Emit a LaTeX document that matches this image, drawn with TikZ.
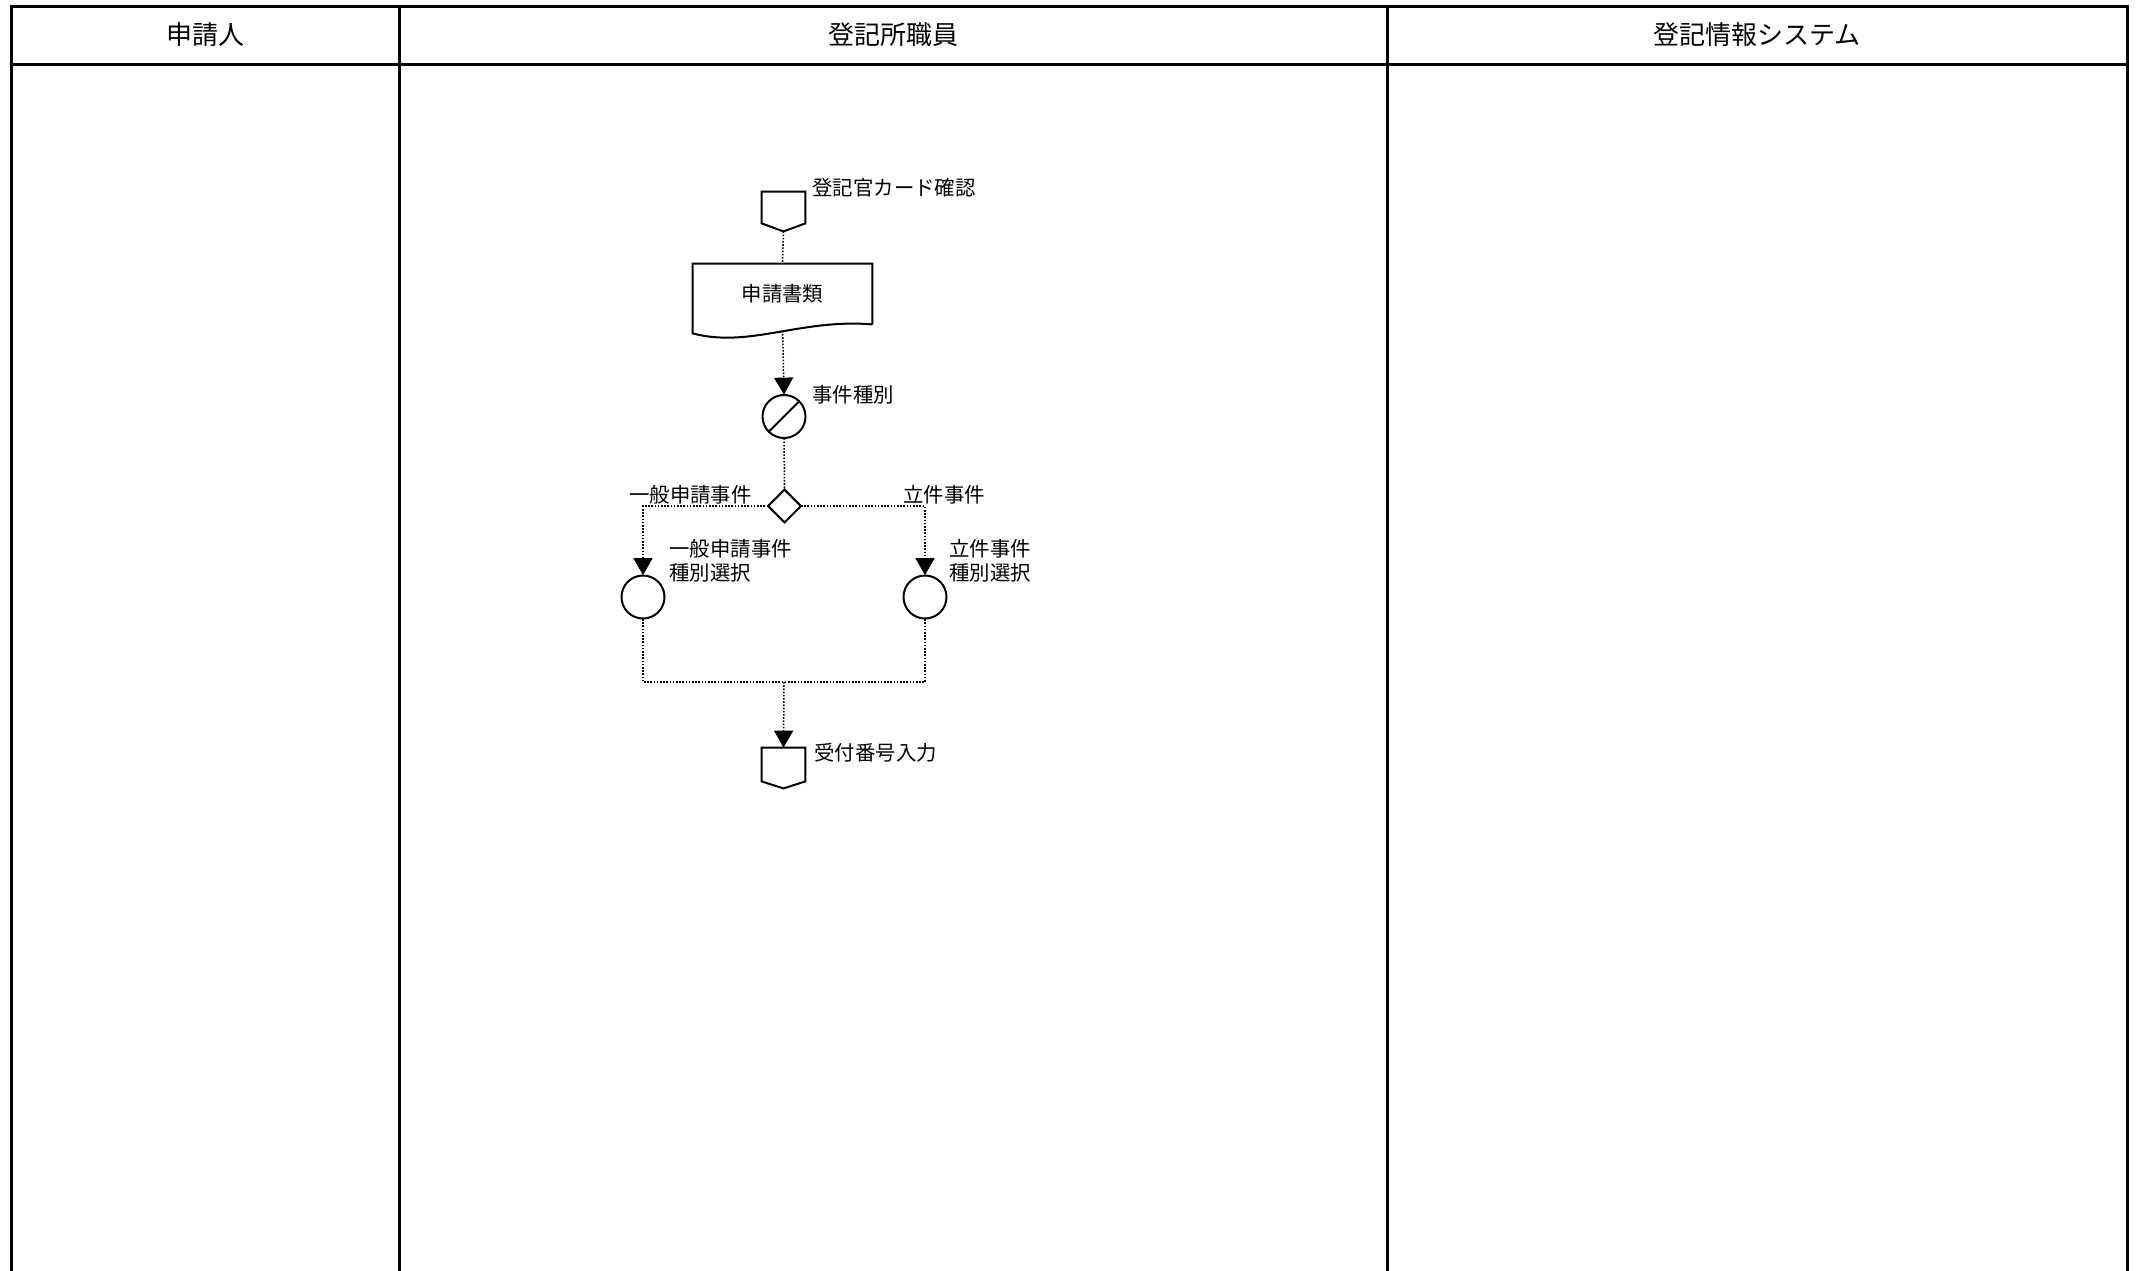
\documentclass[tikz,border=0pt]{standalone}
\usepackage{fontspec}
\setmainfont{Noto Sans CJK JP}
\usetikzlibrary{arrows.meta,shapes.geometric,backgrounds,calc}
\begin{document}
\begin{tikzpicture}[x=0.5pt,y=-0.5pt,
  lane/.style={line width=1.5pt, line cap=rect},
  shapeline/.style={line width=1pt, fill=white, line join=miter},
  flow/.style={line width=0.75pt, dash pattern=on 0.8pt off 0.8pt},
  flowarrow/.style={flow, -{Triangle[length=8.5pt,width=9.5pt]}},
  lbl/.style={inner sep=0pt, font=\fontsize{10.2pt}{12pt}\selectfont},
  hdr/.style={inner sep=0pt, font=\fontsize{13pt}{15pt}\selectfont},
  conn/.style={inner sep=0pt, minimum width=21.5pt},
  circ/.style={circle, inner sep=0pt, minimum size=21.5pt},
  dec/.style={diamond, inner sep=0pt, minimum width=16pt, minimum height=16pt}]
\useasboundingbox (0,0) rectangle (2138,1270);

% swimlanes
\draw[lane] (11,1270) -- (11,6) -- (2127,6) -- (2127,1270);
\draw[lane] (11,64) -- (2127,64);
\draw[lane] (399,6) -- (399,1270);
\draw[lane] (1387,6) -- (1387,1270);
\node[hdr] (h1) at (205,35) {申請人};
\node[hdr] (h2) at (893,35) {登記所職員};
\node[hdr] (h3) at (1757,35) {登記情報システム};

% nodes
\node[conn, minimum height=19.5pt] (c1) at (783.5,211.5) {};
\node[lbl, anchor=west] (c1l) at (812,188) {登記官カード確認};
\node[lbl, inner sep=0pt, minimum width=89.5pt, minimum height=30pt] (doc) at (782.5,294) {申請書類};
\node[circ] (sel) at (784,416.5) {};
\node[lbl, anchor=west] (sell) at (812,395) {事件種別};
\node[dec] (dia) at (784.5,506) {};
\node[lbl, anchor=east] (dial) at (752,495) {一般申請事件};
\node[lbl, anchor=west] (diar) at (903,495) {立件事件};
\node[circ] (c2) at (643,597) {};
\node[lbl, anchor=west, align=left] (c2l) at (669,561) {一般申請事件\\種別選択};
\node[circ] (c3) at (925,597) {};
\node[lbl, anchor=west, align=left] (c3l) at (949,561) {立件事件\\種別選択};
\coordinate (m) at (784,682);
\node[conn, minimum height=20pt] (c4) at (783.5,768) {};
\node[lbl, anchor=west] (c4l) at (814,753) {受付番号入力};

\begin{scope}[on background layer]
  \fill[white] (0,0) rectangle (2138,1270);
  % connectors
  \draw[flow] (c1.south) -- (doc.south |- doc.north);
  \draw[flowarrow] (doc.south) -- (sel.north);
  \draw[flow] (sel.south) -- (dia.north);
  \draw[flowarrow] (dia.west) -| (c2.north);
  \draw[flowarrow] (dia.east) -| (c3.north);
  \draw[flow] (c2.south) |- (m) -| (c3.south);
  \draw[flowarrow] (m) -- (c4.north);
  % shapes
  \draw[shapeline] (c1.north west) -- (c1.north east) -- ($(c1.south east)+(0,-8)$)
     -- (c1.south) -- ($(c1.south west)+(0,-8)$) -- cycle;
  \draw[shapeline] (doc.south east) -- (doc.north east) -- (doc.north west)
     -- ($(doc.south west)+(0,9)$) .. controls +(57,15) and +(-72,-6) .. (doc.south east);
  \draw[shapeline] (sel.center) circle[radius=21.5];
  \draw[line width=1pt] (sel.45) -- (sel.225);
  \draw[shapeline] (dia.north) -- (dia.east) -- (dia.south) -- (dia.west) -- cycle;
  \draw[shapeline] (c2.center) circle[radius=21.5];
  \draw[shapeline] (c3.center) circle[radius=21.5];
  \draw[shapeline] (c4.north west) -- (c4.north east) -- ($(c4.south east)+(0,-7)$)
     -- (c4.south) -- ($(c4.south west)+(0,-7)$) -- cycle;
\end{scope}
\end{tikzpicture}
\end{document}
